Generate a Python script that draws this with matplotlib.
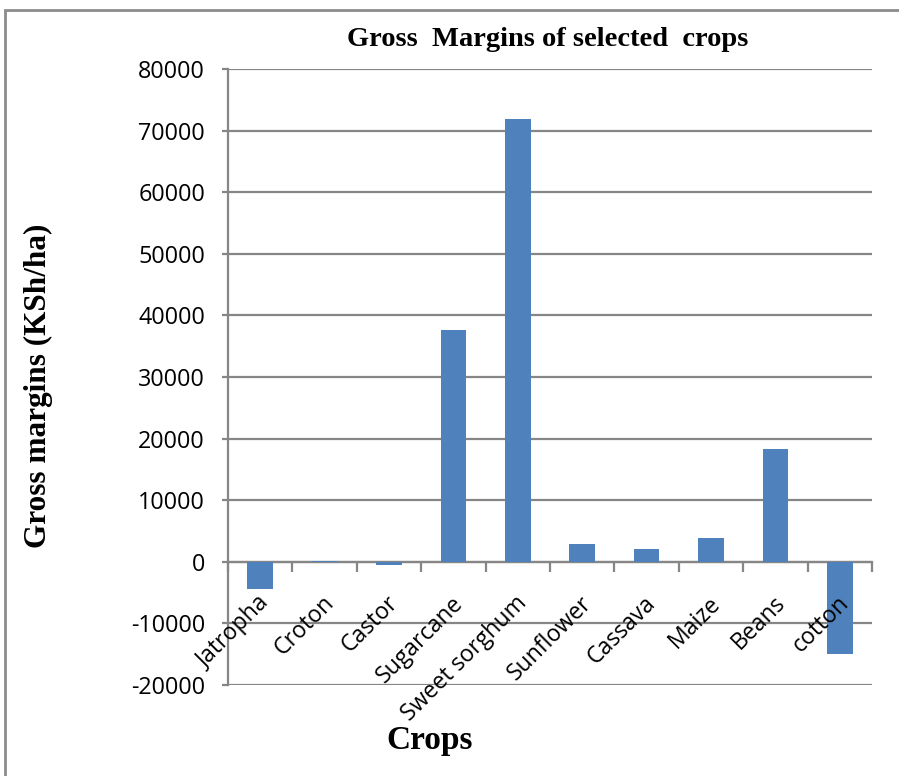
import matplotlib.pyplot as plt
import matplotlib.transforms as mtransforms
from matplotlib.patches import Rectangle
import numpy as np

# Gross margins per crop (KSh/ha)
crops = ['Jatropha', 'Croton', 'Castor', 'Sugarcane', 'Sweet sorghum',
         'Sunflower', 'Cassava', 'Maize', 'Beans', 'cotton']
margins = [-4400, 100, -500, 37700, 71900, 2900, 2000, 3900, 18300, -14900]
y_ticks = [-20000, -10000, 0, 10000, 20000, 30000, 40000, 50000, 60000, 70000, 80000]

bar_color = '#4F81BD'
grid_color = '#868686'
tick_font = 'Open Sans'
serif_font = ['Liberation Serif', 'DejaVu Serif']

fig = plt.figure(figsize=(8.99, 7.76), dpi=100)
ax = fig.add_axes([228 / 899, 1 - 685 / 776, (872 - 228) / 899, (685 - 69) / 776])

x = np.arange(len(crops))
ax.bar(x, margins, width=0.4, color=bar_color, zorder=3)

ax.set_xlim(-0.5, len(crops) - 0.5)
ax.set_ylim(-20000, 80000)
ax.set_yticks(y_ticks)
ax.set_yticklabels([str(v) for v in y_ticks], fontname=tick_font, fontsize=16.8)

# Gridlines
ax.yaxis.grid(True, color=grid_color, linewidth=1.6, zorder=0)
ax.set_axisbelow(True)

# Spines: category axis sits on zero
for side in ['top', 'right']:
    ax.spines[side].set_visible(False)
ax.spines['bottom'].set_position(('data', 0))
ax.spines['bottom'].set_color(grid_color)
ax.spines['bottom'].set_linewidth(1.6)
ax.spines['left'].set_color(grid_color)
ax.spines['left'].set_linewidth(1.6)

ax.tick_params(axis='y', length=4.5, width=1.6, color=grid_color, pad=12)

# Category ticks between bars; labels drawn on top of the bars
ax.set_xticks([])
ax.set_xticks(np.arange(len(crops) + 1) - 0.5, minor=True)
ax.tick_params(axis='x', which='minor', length=7, width=1.6, color=grid_color)
offset = mtransforms.ScaledTranslation(6 / 100, -38 / 100, fig.dpi_scale_trans)
for i, crop in enumerate(crops):
    ax.text(x[i], 0, crop, transform=ax.transData + offset,
            fontname=tick_font, fontsize=16.6, rotation=45,
            ha='right', va='center', rotation_mode='anchor', zorder=5)

# Titles
fig.text(548 / 899, 1 - 39 / 776, 'Gross  Margins of selected  crops',
         family=serif_font, fontweight='bold', fontsize=20.5, ha='center', va='center')
fig.text(38 / 899, 1 - 386 / 776, 'Gross margins (KSh/ha)',
         family=serif_font, fontweight='bold', fontsize=22.5, rotation=90,
         ha='center', va='center')
fig.text(430 / 899, 1 - 740 / 776, 'Crops',
         family=serif_font, fontweight='bold', fontsize=24, ha='center', va='center')

# Outer chart frame
fig.patches.append(Rectangle((5 / 899, -0.1), 1.2, 1 - 10 / 776 + 0.1,
                             transform=fig.transFigure, fill=False,
                             edgecolor='#8c8c8c', linewidth=2))

plt.savefig('out.png', dpi=100)
